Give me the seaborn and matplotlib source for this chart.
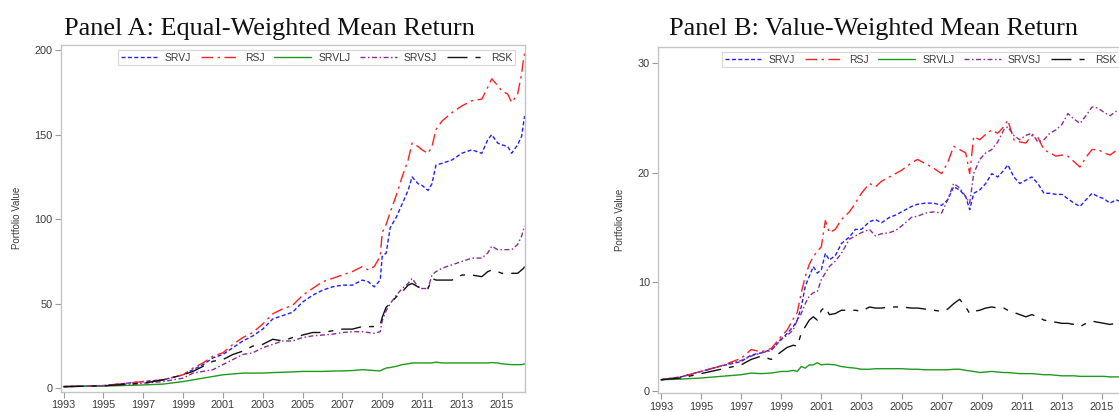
import matplotlib
matplotlib.use("Agg")
import matplotlib.pyplot as plt
import seaborn as sns
import pandas as pd

# ---------------- data ----------------
SERIES = ["SRVJ", "RSJ", "SRVLJ", "SRVSJ", "RSK"]

YEAR_TICKS = list(range(1993, 2016, 2))
A_YTICKS = [0, 50, 100, 150, 200]
B_YTICKS = [0, 10, 20, 30]

TITLE_A = "Panel A: Equal-Weighted Mean Return"
TITLE_B = "Panel B: Value-Weighted Mean Return"
YLABEL = "Portfolio Value"

# Panel A (equal-weighted)
A_YEARS = [1993, 1995, 1997, 1998, 1999, 1999.5, 2000, 2000.5, 2001, 2001.5, 2002, 2002.5,
           2003, 2003.5, 2004, 2004.5, 2005, 2005.5, 2006, 2006.5, 2007, 2007.5, 2008, 2008.3,
           2008.6, 2008.9, 2009.0, 2009.2, 2009.4, 2009.7, 2010, 2010.3, 2010.5, 2010.8, 2011,
           2011.3, 2011.5, 2011.7, 2012, 2012.5, 2013, 2013.5, 2014, 2014.3, 2014.5, 2014.8,
           2015, 2015.3, 2015.5, 2015.8, 2016.0, 2016.1, 2016.15]
A_SRVJ = [1, 1.6, 4, 5, 8, 11, 14, 18, 20, 24, 28, 31, 35, 41, 43, 45, 51, 55, 58, 60, 61, 61,
          64, 63, 60, 64, 78, 80, 95, 101, 109, 117, 125, 121, 120, 117, 121, 132, 133, 135,
          139, 141, 139, 147, 150, 145, 144, 143, 139, 144, 149, 157, 161]
A_RSJ = [1, 1.6, 4, 5, 8, 12, 15, 19, 21, 26, 30, 33, 38, 44, 47, 49, 55, 59, 63, 65, 67, 69,
         72, 70, 72, 78, 92, 97, 104, 114, 125, 135, 145, 143, 141, 139, 143, 153, 158, 163,
         167, 170, 171, 178, 183, 179, 176, 174, 169, 174, 186, 195, 198]
A_SRVLJ = [1, 1.3, 2, 2.5, 4, 5, 6, 7, 8, 8.5, 9, 9, 9, 9.3, 9.5, 9.7, 10, 10, 10, 10.2, 10.3,
           10.5, 11, 10.8, 10.5, 10.3, 11, 12, 12.3, 13, 14, 14.5, 15, 15, 15, 15, 15, 15.5,
           15, 15, 15, 15, 15, 15, 15.2, 15, 14.5, 14.2, 14, 14, 14, 14.3, 14.5]
A_SRVSJ = [1, 1.5, 3, 4, 6, 9, 10, 11, 14, 17, 20, 21, 24, 26, 28, 28, 30, 31, 31.5, 32, 33,
           33.5, 33.5, 33, 32.5, 33.5, 40, 46, 50, 55, 59, 62, 65, 60, 59, 59, 67, 69, 71, 73,
           75, 77, 77, 80, 84, 82, 82, 82, 82, 85, 90, 94, 96]
A_RSK = [1, 1.5, 3, 5, 8, 10, 13, 16, 17, 20, 22, 25, 26, 29, 28, 30, 31.5, 33, 33, 34, 35, 35,
         36.5, 36.5, 36.5, 37.5, 42, 48, 50, 54, 57, 61, 62, 60, 59, 59, 65, 64, 64, 64, 67, 67,
         66, 69, 70, 69, 68, 68, 68, 68, 70, 71, 72]

# Panel B (value-weighted)
B_YEARS = [1993, 1994, 1995, 1996, 1997, 1997.5, 1998, 1998.5, 1999, 1999.3, 1999.6, 1999.8,
           2000.0, 2000.2, 2000.4, 2000.6, 2000.8, 2001.0, 2001.2, 2001.4, 2001.7, 2002.0,
           2002.4, 2002.7, 2003.0, 2003.4, 2003.7, 2004.0, 2004.4, 2004.7, 2005.0, 2005.5,
           2005.8, 2006.2, 2006.6, 2007.0, 2007.3, 2007.6, 2007.9, 2008.2, 2008.4, 2008.6,
           2008.9, 2009.2, 2009.5, 2009.8, 2010.1, 2010.3, 2010.6, 2010.9, 2011.2, 2011.5,
           2011.8, 2012.1, 2012.4, 2012.7, 2013.0, 2013.3, 2013.6, 2013.9, 2014.2, 2014.5,
           2014.8, 2015.1, 2015.4, 2015.7, 2016.0, 2016.15]
B_SRVJ = [1.04, 1.3, 1.8, 2.3, 2.7, 3.3, 3.5, 3.8, 4.7, 5.3, 5.9, 6.5, 7.7, 9.6, 10.5, 11.4,
          10.8, 11.1, 12.6, 12.0, 12.4, 13.5, 14.1, 14.8, 14.8, 15.5, 15.7, 15.4, 15.9, 16.1,
          16.4, 16.9, 17.1, 17.2, 17.2, 17.0, 17.5, 18.7, 18.4, 17.8, 16.6, 18.1, 18.4, 19.0,
          19.9, 19.6, 20.2, 20.7, 19.6, 19.0, 19.3, 19.6, 19.0, 18.1, 18.1, 18.0, 18.0, 17.6,
          17.2, 16.9, 17.5, 18.1, 17.8, 17.6, 17.2, 17.5, 17.3, 17.3]
B_RSJ = [1.04, 1.3, 1.8, 2.3, 3.0, 3.8, 3.6, 3.9, 5.0, 5.6, 6.6, 7.2, 9.0, 10.5, 11.6, 12.3,
         12.8, 13.2, 15.6, 14.5, 14.8, 15.7, 16.4, 17.2, 18.1, 19.0, 18.7, 19.2, 19.6, 19.9,
         20.2, 20.9, 21.2, 20.8, 20.4, 19.9, 20.9, 22.4, 22.1, 21.8, 19.9, 23.3, 23.0, 23.5,
         23.9, 23.6, 24.2, 24.8, 23.0, 22.8, 22.7, 23.4, 23.2, 22.1, 21.8, 21.5, 21.6, 21.5,
         21.0, 20.5, 21.4, 22.1, 22.1, 21.8, 21.6, 22.0, 21.8, 21.8]
B_SRVLJ = [1.04, 1.1, 1.2, 1.35, 1.5, 1.65, 1.6, 1.65, 1.8, 1.8, 1.9, 1.8, 2.25, 2.1, 2.4, 2.4,
           2.6, 2.4, 2.45, 2.45, 2.4, 2.25, 2.15, 2.1, 2.0, 2.0, 2.05, 2.05, 2.05, 2.05, 2.05,
           2.0, 2.0, 1.95, 1.95, 1.95, 1.95, 2.0, 2.0, 1.9, 1.85, 1.8, 1.7, 1.75, 1.8, 1.75,
           1.7, 1.7, 1.65, 1.6, 1.6, 1.6, 1.55, 1.5, 1.5, 1.45, 1.4, 1.4, 1.4, 1.35, 1.35,
           1.35, 1.35, 1.35, 1.3, 1.3, 1.3, 1.3]
B_SRVSJ = [1.04, 1.3, 1.8, 2.3, 2.8, 3.2, 3.5, 3.7, 4.8, 5.1, 5.6, 6.5, 7.1, 8.0, 8.7, 9.0, 9.1,
           10.2, 10.8, 11.4, 11.9, 12.6, 13.9, 14.2, 14.5, 14.8, 14.2, 14.4, 14.5, 14.7, 15.1,
           15.9, 16.0, 16.3, 16.4, 16.3, 17.5, 19.0, 18.6, 17.8, 17.2, 19.9, 21.2, 21.8, 22.1,
           22.8, 23.9, 24.2, 23.4, 23.0, 23.4, 23.6, 22.8, 23.0, 23.6, 23.9, 24.4, 25.4, 24.9,
           24.5, 25.2, 26.0, 25.9, 25.5, 25.2, 25.6, 25.5, 25.5]
B_RSK = [1.04, 1.2, 1.6, 2.0, 2.4, 2.9, 3.2, 2.9, 3.6, 4.0, 4.2, 4.1, 5.3, 5.9, 6.5, 6.8, 6.5,
         7.4, 7.7, 7.0, 7.1, 7.4, 7.4, 7.4, 7.3, 7.7, 7.6, 7.6, 7.7, 7.7, 7.7, 7.6, 7.6, 7.5,
         7.4, 7.3, 7.5, 8.0, 8.4, 7.7, 7.1, 7.3, 7.4, 7.6, 7.7, 7.6, 7.6, 7.4, 7.2, 7.0, 6.8,
         7.0, 6.8, 6.5, 6.4, 6.3, 6.2, 6.2, 6.1, 5.9, 6.2, 6.4, 6.3, 6.2, 6.1, 6.2, 6.2, 6.2]

# ---------------- styles ----------------
PALETTE = {"SRVJ": "#1f1fff", "RSJ": "#ff1f1f", "SRVLJ": "#1e9a1e",
           "SRVSJ": "#8e2a9a", "RSK": "#111111"}
DASHES = {"SRVJ": (2.9, 1.7), "RSJ": (8.4, 3.2, 1.7, 3.2), "SRVLJ": "",
          "SRVSJ": (3.6, 1.8, 1.1, 1.8), "RSK": (14.4, 5.8, 3.6, 5.8)}


def long_frame(years, series_dict):
    rows = []
    for name in SERIES:
        vals = series_dict[name]
        assert len(vals) == len(years), name
        for x, v in zip(years, vals):
            rows.append({"year": x, "value": v, "series": name})
    return pd.DataFrame(rows)


df_a = long_frame(A_YEARS, {"SRVJ": A_SRVJ, "RSJ": A_RSJ, "SRVLJ": A_SRVLJ,
                            "SRVSJ": A_SRVSJ, "RSK": A_RSK})
df_b = long_frame(B_YEARS, {"SRVJ": B_SRVJ, "RSJ": B_RSJ, "SRVLJ": B_SRVLJ,
                            "SRVSJ": B_SRVSJ, "RSK": B_RSK})

sns.set_style("ticks")
plt.rcParams["font.family"] = ["Liberation Sans", "DejaVu Sans"]
plt.rcParams["lines.scale_dashes"] = False

W, H = 1119, 412
fig = plt.figure(figsize=(W / 100, H / 100), dpi=100)


def px_axes(left, top, right, bottom):
    return fig.add_axes([left / W, 1 - bottom / H, (right - left) / W, (bottom - top) / H])


ax_a = px_axes(61, 45, 525, 391.7)
ax_b = px_axes(658.3, 47.3, 1125.5, 393.3)

SPINE = "#c4c4c4"
TXT = "#3a3a3a"


def draw(ax, df, yticks, ylim, leg_anchor):
    sns.lineplot(data=df, x="year", y="value", hue="series", style="series",
                 hue_order=SERIES, style_order=SERIES, palette=PALETTE, dashes=DASHES,
                 estimator=None, sort=False, linewidth=1.0, legend=False, ax=ax)
    ax.set_xlim(1992.87, 2016.17)
    ax.set_ylim(*ylim)
    ax.set_xticks(YEAR_TICKS)
    ax.set_xticklabels([str(y) for y in YEAR_TICKS])
    ax.set_yticks(yticks)
    ax.set_xlabel("")
    ax.set_ylabel(YLABEL, fontsize=7, color=TXT, labelpad=9)
    for s in ax.spines.values():
        s.set_visible(True)
        s.set_color(SPINE)
        s.set_linewidth(1.0)
    ax.tick_params(axis="both", which="major", labelsize=7.8, labelcolor=TXT,
                   color="#9a9a9a", length=4, width=0.8, pad=2, direction="out")
    ax.tick_params(top=False, right=False)
    handles = ax.get_lines()[:len(SERIES)]
    leg = ax.legend(handles, SERIES, ncol=5, loc="upper left", bbox_to_anchor=leg_anchor,
                    bbox_transform=ax.transAxes, borderaxespad=0, fontsize=7.5,
                    handlelength=3.55, handletextpad=0.7, columnspacing=0.9,
                    borderpad=0.25, frameon=True, fancybox=False, labelcolor=TXT)
    leg.get_frame().set_edgecolor("#cfcfcf")
    leg.get_frame().set_linewidth(0.9)


draw(ax_a, df_a, A_YTICKS, (-2, 203), ((118 - 61) / 464, (391.7 - 50) / 346.7))
draw(ax_b, df_b, B_YTICKS, (-0.2, 31.46), ((722 - 658.3) / 467.2, (393.3 - 52) / 346.0))

fig.text(64.5 / W, 1 - 35 / H, TITLE_A, fontsize=18.9, family="Liberation Serif",
         color="#111111", va="baseline", ha="left")
fig.text(669 / W, 1 - 35 / H, TITLE_B, fontsize=18.9, family="Liberation Serif",
         color="#111111", va="baseline", ha="left")

fig.savefig("out.png", dpi=100)
